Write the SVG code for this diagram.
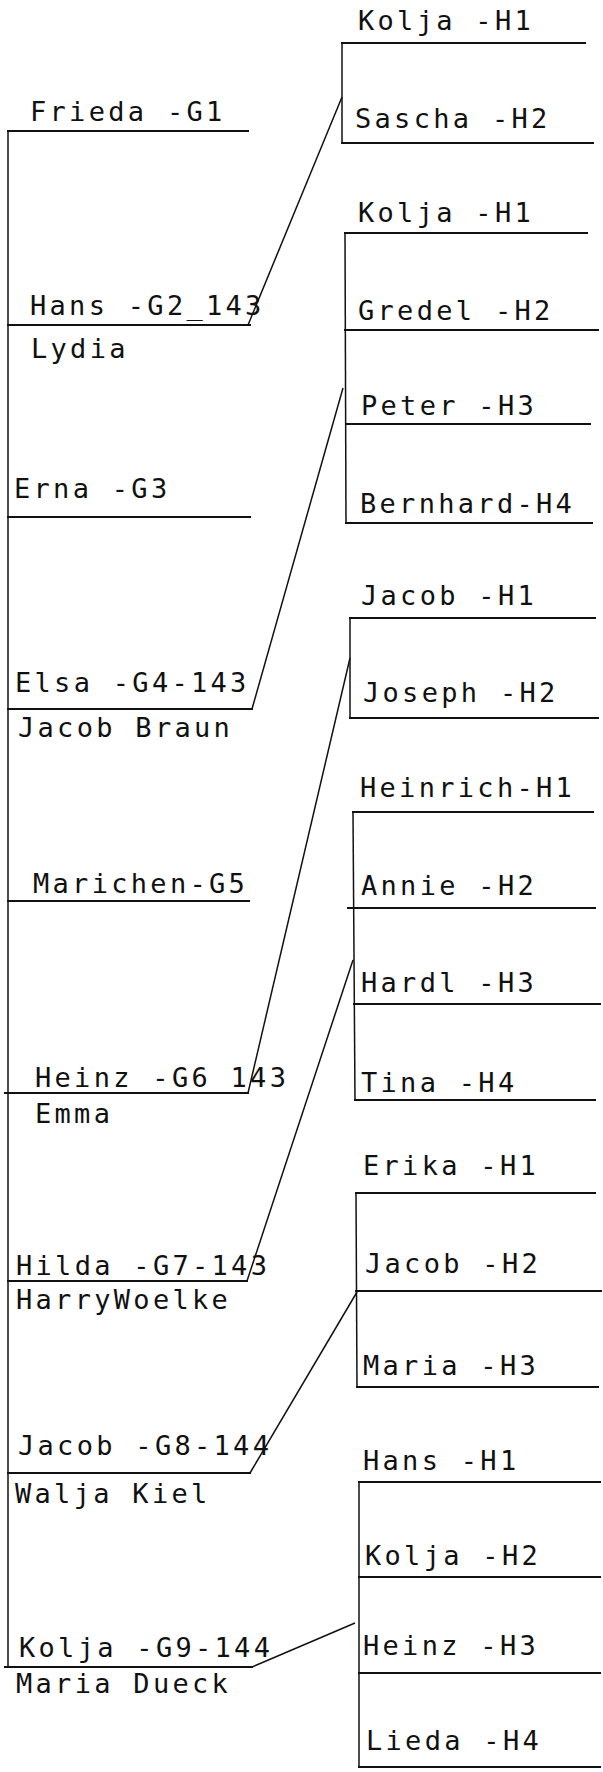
<svg xmlns="http://www.w3.org/2000/svg" width="603" height="1772" viewBox="0 0 603 1772">
<style>
.t{font-family:"DejaVu Sans Mono","Liberation Mono",monospace;font-size:27px;letter-spacing:3.3px;fill:#111}
.ln{stroke:#111;stroke-width:2;fill:none;stroke-linecap:square}
.cn{stroke:#111;stroke-width:1.5;fill:none}
</style>
<rect width="603" height="1772" fill="#fff"/>
<g id="connectors">
<line class="cn" x1="8" y1="131" x2="8" y2="1667"/>
<line class="cn" x1="342" y1="43" x2="342" y2="143"/>
<line class="cn" x1="345" y1="233" x2="346" y2="523"/>
<line class="cn" x1="350" y1="618" x2="350" y2="718"/>
<line class="cn" x1="353" y1="812" x2="355" y2="1100"/>
<line class="cn" x1="356" y1="1193" x2="357" y2="1387"/>
<line class="cn" x1="359" y1="1482" x2="359" y2="1767"/>
<line class="cn" x1="248" y1="325" x2="342" y2="97"/>
<line class="cn" x1="252" y1="709" x2="343" y2="388"/>
<line class="cn" x1="248" y1="1093" x2="350" y2="658"/>
<line class="cn" x1="247" y1="1281" x2="353" y2="960"/>
<line class="cn" x1="250" y1="1473" x2="357" y2="1292"/>
<line class="cn" x1="252" y1="1667" x2="355" y2="1623"/>
</g>
<g id="g1-frieda"><text class="t" x="30" y="121">Frieda -G1</text><line class="ln" x1="8" y1="131" x2="248" y2="131"/></g>
<g id="g2-hans"><text class="t" x="30" y="315">Hans -G2_143</text><line class="ln" x1="8" y1="325" x2="250" y2="325"/><text class="t" x="31" y="358">Lydia</text></g>
<g id="g3-erna"><text class="t" x="14" y="498">Erna -G3</text><line class="ln" x1="8" y1="517" x2="250" y2="517"/></g>
<g id="g4-elsa"><text class="t" x="15" y="692">Elsa -G4-143</text><line class="ln" x1="8" y1="709" x2="252" y2="709"/><text class="t" x="18" y="737">Jacob Braun</text></g>
<g id="g5-marichen"><text class="t" x="33" y="893">Marichen-G5</text><line class="ln" x1="8" y1="901" x2="249" y2="901"/></g>
<g id="g6-heinz"><text class="t" x="35" y="1087">Heinz -G6_143</text><line class="ln" x1="5" y1="1093" x2="248" y2="1093"/><text class="t" x="35" y="1123">Emma</text></g>
<g id="g7-hilda"><text class="t" x="16" y="1275">Hilda -G7-143</text><line class="ln" x1="8" y1="1281" x2="247" y2="1281"/><text class="t" x="16" y="1309">HarryWoelke</text></g>
<g id="g8-jacob"><text class="t" x="18" y="1455">Jacob -G8-144</text><line class="ln" x1="8" y1="1473" x2="250" y2="1473"/><text class="t" x="15" y="1503">Walja Kiel</text></g>
<g id="g9-kolja"><text class="t" x="19" y="1657">Kolja -G9-144</text><line class="ln" x1="5" y1="1667" x2="252" y2="1667"/><text class="t" x="16" y="1693">Maria Dueck</text></g>
<g id="a-h1-kolja"><text class="t" x="358" y="30">Kolja -H1</text><line class="ln" x1="342" y1="43" x2="585" y2="43"/></g>
<g id="a-h2-sascha"><text class="t" x="355" y="128">Sascha -H2</text><line class="ln" x1="342" y1="143" x2="593" y2="143"/></g>
<g id="b-h1-kolja"><text class="t" x="358" y="222">Kolja -H1</text><line class="ln" x1="345" y1="233" x2="587" y2="233"/></g>
<g id="b-h2-gredel"><text class="t" x="358" y="320">Gredel -H2</text><line class="ln" x1="345" y1="330" x2="598" y2="330"/></g>
<g id="b-h3-peter"><text class="t" x="361" y="415">Peter -H3</text><line class="ln" x1="346" y1="424" x2="590" y2="424"/></g>
<g id="b-h4-bernhard"><text class="t" x="360" y="513">Bernhard-H4</text><line class="ln" x1="346" y1="523" x2="592" y2="523"/></g>
<g id="c-h1-jacob"><text class="t" x="361" y="605">Jacob -H1</text><line class="ln" x1="350" y1="618" x2="595" y2="618"/></g>
<g id="c-h2-joseph"><text class="t" x="363" y="702">Joseph -H2</text><line class="ln" x1="350" y1="718" x2="598" y2="718"/></g>
<g id="d-h1-heinrich"><text class="t" x="360" y="797">Heinrich-H1</text><line class="ln" x1="353" y1="812" x2="593" y2="812"/></g>
<g id="d-h2-annie"><text class="t" x="361" y="895">Annie -H2</text><line class="ln" x1="348" y1="908" x2="595" y2="908"/></g>
<g id="d-h3-hardl"><text class="t" x="361" y="992">Hardl -H3</text><line class="ln" x1="354" y1="1004" x2="600" y2="1004"/></g>
<g id="d-h4-tina"><text class="t" x="361" y="1092">Tina -H4</text><line class="ln" x1="355" y1="1100" x2="595" y2="1100"/></g>
<g id="e-h1-erika"><text class="t" x="363" y="1175">Erika -H1</text><line class="ln" x1="356" y1="1193" x2="595" y2="1193"/></g>
<g id="e-h2-jacob"><text class="t" x="365" y="1273">Jacob -H2</text><line class="ln" x1="356" y1="1291" x2="601" y2="1291"/></g>
<g id="e-h3-maria"><text class="t" x="363" y="1375">Maria -H3</text><line class="ln" x1="357" y1="1387" x2="598" y2="1387"/></g>
<g id="f-h1-hans"><text class="t" x="363" y="1470">Hans -H1</text><line class="ln" x1="359" y1="1482" x2="600" y2="1482"/></g>
<g id="f-h2-kolja"><text class="t" x="365" y="1565">Kolja -H2</text><line class="ln" x1="359" y1="1577" x2="600" y2="1577"/></g>
<g id="f-h3-heinz"><text class="t" x="363" y="1655">Heinz -H3</text><line class="ln" x1="359" y1="1673" x2="600" y2="1673"/></g>
<g id="f-h4-lieda"><text class="t" x="366" y="1750">Lieda -H4</text><line class="ln" x1="359" y1="1767" x2="600" y2="1767"/></g>
</svg>
